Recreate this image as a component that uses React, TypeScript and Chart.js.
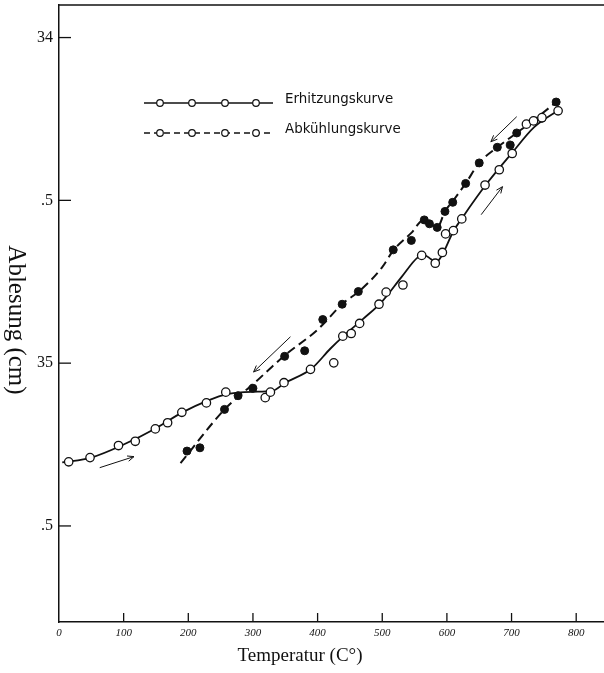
import React, { useEffect, useRef } from "react";
import { Chart, registerables } from "chart.js";

Chart.register(...registerables);

// ---- axis configuration ----
const X_TICKS = [0, 100, 200, 300, 400, 500, 600, 700, 800];
const Y_TICKS = [34, 34.5, 35, 35.5];
const Y_TICK_LABELS = ["34", ".5", "35", ".5"];
const X_MIN = 0;
const X_MAX = 843;
const Y_MIN = 33.9;
const Y_MAX = 35.795;

const X_TITLE = "Temperatur (C°)";
const Y_TITLE = "Ablesung (cm)";
const LEGEND_LABELS = ["Erhitzungskurve", "Abkühlungskurve"];

// ---- Erhitzungskurve (heating), open circles ----
const heatT = [15, 48, 92, 118, 149, 168, 190, 228, 258, 319, 327, 348, 389, 425, 439, 452, 465, 495, 506, 532, 561, 582, 593, 598, 610, 623, 659, 681, 701, 723, 734, 747, 772];
const heatV = [35.303, 35.29, 35.253, 35.24, 35.202, 35.183, 35.151, 35.122, 35.089, 35.106, 35.089, 35.06, 35.019, 34.999, 34.917, 34.909, 34.878, 34.819, 34.782, 34.76, 34.669, 34.693, 34.66, 34.603, 34.593, 34.557, 34.453, 34.406, 34.356, 34.266, 34.256, 34.246, 34.225];

// ---- Abkühlungskurve (cooling), filled circles ----
const coolT = [198, 218, 256, 277, 300, 349, 380, 408, 438, 463, 517, 545, 565, 573, 585, 597, 609, 629, 650, 678, 698, 708, 747, 769];
const coolV = [35.27, 35.26, 35.142, 35.1, 35.077, 34.979, 34.962, 34.866, 34.819, 34.78, 34.652, 34.623, 34.56, 34.572, 34.583, 34.534, 34.506, 34.448, 34.385, 34.337, 34.33, 34.293, 34.248, 34.198];

// ---- hand-drawn fitted curves ----
const heatCurveT = [5, 50, 100, 150, 190, 230, 260, 300, 330, 350, 390, 420, 440, 470, 500, 530, 555, 565, 575, 583, 592, 610, 625, 660, 700, 735, 775];
const heatCurveV = [35.305, 35.29, 35.25, 35.2, 35.152, 35.115, 35.095, 35.088, 35.085, 35.06, 35.018, 34.955, 34.917, 34.865, 34.81, 34.735, 34.675, 34.668, 34.68, 34.69, 34.67, 34.595, 34.55, 34.453, 34.356, 34.275, 34.22];

const coolCurveT = [188, 256, 280, 300, 330, 350, 400, 440, 465, 500, 517, 545, 564, 575, 585, 597, 610, 629, 650, 678, 708, 740, 769];
const coolCurveV = [35.307, 35.142, 35.098, 35.065, 35.01, 34.975, 34.897, 34.815, 34.778, 34.705, 34.654, 34.6, 34.56, 34.572, 34.583, 34.534, 34.5, 34.448, 34.385, 34.337, 34.293, 34.245, 34.198];

// ---- direction arrows (tail -> head) ----
const arrowFromT = [63, 358, 653, 708];
const arrowFromV = [35.321, 34.919, 34.544, 34.243];
const arrowToT = [116, 301, 686, 668];
const arrowToV = [35.287, 35.027, 34.458, 34.32];

const INK = "#111";

function pts(xs: number[], ys: number[]) {
  return xs.map((x, i) => ({ x, y: ys[i] }));
}

function zeroPadding(s: any) {
  s.paddingTop = 0;
  s.paddingBottom = 0;
  s.paddingLeft = 0;
  s.paddingRight = 0;
}

export default function App() {
  const ref = useRef<HTMLCanvasElement>(null);

  useEffect(() => {
    document.body.style.margin = "0";
    const canvas = ref.current!;

    const decor = {
      id: "decor",
      afterDraw(chart: any) {
        const { ctx, chartArea } = chart;
        const xs = chart.scales.x;
        const ys = chart.scales.y;
        ctx.save();
        ctx.strokeStyle = INK;
        ctx.fillStyle = INK;

        // top frame line
        ctx.lineWidth = 1.5;
        ctx.beginPath();
        ctx.moveTo(chartArea.left, chartArea.top);
        ctx.lineTo(chartArea.right, chartArea.top);
        ctx.stroke();

        // inward tick marks
        ctx.lineWidth = 1.3;
        X_TICKS.forEach((t) => {
          const px = xs.getPixelForValue(t);
          if (t === 0) return;
          ctx.beginPath();
          ctx.moveTo(px, chartArea.bottom);
          ctx.lineTo(px, chartArea.bottom - 9);
          ctx.stroke();
        });
        Y_TICKS.forEach((v) => {
          const py = ys.getPixelForValue(v);
          ctx.beginPath();
          ctx.moveTo(chartArea.left, py);
          ctx.lineTo(chartArea.left + 12, py);
          ctx.stroke();
        });

        // arrows
        ctx.lineWidth = 1;
        for (let i = 0; i < arrowFromT.length; i++) {
          const x1 = xs.getPixelForValue(arrowFromT[i]);
          const y1 = ys.getPixelForValue(arrowFromV[i]);
          const x2 = xs.getPixelForValue(arrowToT[i]);
          const y2 = ys.getPixelForValue(arrowToV[i]);
          ctx.beginPath();
          ctx.moveTo(x1, y1);
          ctx.lineTo(x2, y2);
          ctx.stroke();
          const a = Math.atan2(y2 - y1, x2 - x1);
          const hl = 7;
          ctx.beginPath();
          ctx.moveTo(x2 - hl * Math.cos(a - 0.4), y2 - hl * Math.sin(a - 0.4));
          ctx.lineTo(x2, y2);
          ctx.lineTo(x2 - hl * Math.cos(a + 0.4), y2 - hl * Math.sin(a + 0.4));
          ctx.stroke();
        }

        // legend
        const rows = [103, 133];
        const circX = [160, 192, 225, 256];
        rows.forEach((ry, r) => {
          ctx.lineWidth = 1.5;
          ctx.setLineDash(r === 0 ? [] : [6, 4]);
          ctx.beginPath();
          ctx.moveTo(144, ry);
          ctx.lineTo(273, ry);
          ctx.stroke();
          ctx.setLineDash([]);
          ctx.lineWidth = 1.2;
          circX.forEach((cx) => {
            ctx.beginPath();
            ctx.arc(cx, ry, 3.3, 0, Math.PI * 2);
            ctx.fillStyle = "#fff";
            ctx.fill();
            ctx.stroke();
          });
          ctx.fillStyle = INK;
          ctx.font = '13.4px "DejaVu Sans"';
          ctx.textAlign = "left";
          ctx.textBaseline = "middle";
          ctx.fillText(LEGEND_LABELS[r], 285, ry - 3);
        });

        // axis titles
        ctx.fillStyle = INK;
        ctx.font = '19px "Liberation Serif"';
        ctx.textAlign = "center";
        ctx.textBaseline = "middle";
        ctx.fillText(X_TITLE, 300, 656);

        ctx.save();
        ctx.translate(16, 320);
        ctx.rotate(Math.PI / 2);
        ctx.font = '25px "Liberation Serif"';
        ctx.fillText(Y_TITLE, 0, 0);
        ctx.restore();

        ctx.restore();
      },
    };

    const chart = new Chart(canvas, {
      type: "line",
      data: {
        datasets: [
          {
            label: LEGEND_LABELS[0],
            data: pts(heatT, heatV),
            showLine: false,
            pointRadius: 4.2,
            pointBackgroundColor: "#fff",
            pointBorderColor: INK,
            pointBorderWidth: 1.3,
            order: 0,
          },
          {
            label: LEGEND_LABELS[1],
            data: pts(coolT, coolV),
            showLine: false,
            pointRadius: 4,
            pointBackgroundColor: INK,
            pointBorderColor: INK,
            pointBorderWidth: 1,
            order: 1,
          },
          {
            label: "heat-curve",
            data: pts(heatCurveT, heatCurveV),
            borderColor: INK,
            borderWidth: 1.8,
            pointRadius: 0,
            cubicInterpolationMode: "monotone",
            fill: false,
            order: 2,
          },
          {
            label: "cool-curve",
            data: pts(coolCurveT, coolCurveV),
            borderColor: INK,
            borderWidth: 2,
            borderDash: [9, 5],
            pointRadius: 0,
            cubicInterpolationMode: "monotone",
            fill: false,
            order: 3,
          },
        ],
      } as any,
      options: {
        animation: false,
        responsive: false,
        devicePixelRatio: 1,
        layout: { autoPadding: false, padding: { top: 5, left: 0, right: 0, bottom: 0 } },
        plugins: {
          legend: { display: false },
          tooltip: { enabled: false },
          title: { display: false },
        },
        scales: {
          x: {
            type: "linear",
            min: X_MIN,
            max: X_MAX,
            afterBuildTicks: (s: any) => {
              s.ticks = X_TICKS.map((v) => ({ value: v }));
            },
            afterFit: (s: any) => {
              s.height = 51;
              zeroPadding(s);
            },
            grid: { display: false, drawTicks: false },
            border: { display: true, color: INK, width: 1.5 },
            ticks: {
              autoSkip: false,
              maxRotation: 0,
              padding: 5,
              color: INK,
              font: { family: "Liberation Serif", size: 11, style: "italic" },
              callback: (v: any) => String(v),
            },
          },
          y: {
            type: "linear",
            reverse: true,
            min: Y_MIN,
            max: Y_MAX,
            afterBuildTicks: (s: any) => {
              s.ticks = Y_TICKS.map((v) => ({ value: v }));
            },
            afterFit: (s: any) => {
              s.width = 59;
              zeroPadding(s);
            },
            grid: { display: false, drawTicks: false },
            border: { display: true, color: INK, width: 1.5 },
            ticks: {
              autoSkip: false,
              padding: 6,
              color: INK,
              font: { family: "Liberation Serif", size: 16 },
              callback: (v: any) => {
                const i = Y_TICKS.indexOf(Number(v));
                return i >= 0 ? Y_TICK_LABELS[i] : "";
              },
            },
          },
        },
      } as any,
      plugins: [decor],
    });

    return () => chart.destroy();
  }, []);

  return (
    <div style={{ width: 604, height: 673 }}>
      <canvas ref={ref} width={604} height={673} style={{ display: "block" }} />
    </div>
  );
}
